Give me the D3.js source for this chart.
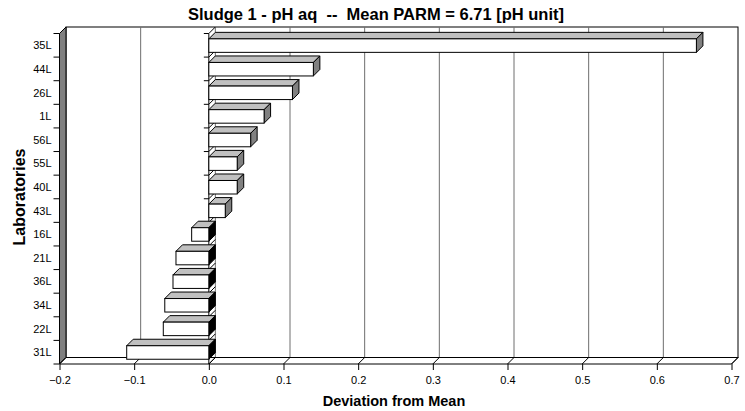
<!DOCTYPE html>
<html>
<head>
<meta charset="utf-8">
<script src="https://cdn.jsdelivr.net/npm/d3@7"></script>
<style>
  html, body { margin: 0; padding: 0; background: #fff; }
  svg { display: block; }
  text { font-family: "Liberation Sans", Arial, sans-serif; fill: #000; }
</style>
</head>
<body>
<svg id="chart" width="745" height="411"></svg>
<script>
// ---- data ----
const laboratories = ["35L","44L","26L","1L","56L","55L","40L","43L","16L","21L","36L","34L","22L","31L"];
const deviations   = [0.653, 0.140, 0.112, 0.074, 0.056, 0.038, 0.038, 0.022, -0.023, -0.044, -0.048, -0.059, -0.061, -0.110];
const xTickValues  = [-0.2, -0.1, 0.0, 0.1, 0.2, 0.3, 0.4, 0.5, 0.6, 0.7];
const chartTitle   = "Sludge 1 - pH aq  --  Mean PARM = 6.71 [pH unit]";
const xTitle       = "Deviation from Mean";
const yTitle       = "Laboratories";

// ---- layout ----
const front = { left: 59.5, right: 731.5, top: 33.5, bottom: 364 };
const depth = 6.5;

const svg = d3.select("#chart");

const x = d3.scaleLinear().domain([-0.2, 0.7]).range([front.left, front.right]);
const y = d3.scaleBand().domain(laboratories).range([front.top, front.bottom]).paddingInner(0).paddingOuter(0);
const barH = 13.5;

const poly = pts => pts.map(p => p.join(",")).join(" ");

// back wall
svg.append("rect")
  .attr("x", front.left + depth).attr("y", front.top - depth)
  .attr("width", front.right - front.left).attr("height", front.bottom - front.top)
  .attr("fill", "#fff").attr("stroke", "#000").attr("stroke-width", 1);

// vertical gridlines on back wall
svg.append("g").selectAll("line")
  .data(xTickValues.filter(v => v > -0.2 && v < 0.7))
  .join("line")
  .attr("x1", d => x(d) + depth).attr("x2", d => x(d) + depth)
  .attr("y1", front.top - depth).attr("y2", front.bottom - depth)
  .attr("stroke", "#6e6e6e").attr("stroke-width", 1);

// left wall
svg.append("polygon")
  .attr("points", poly([[front.left, front.top], [front.left + depth, front.top - depth],
                        [front.left + depth, front.bottom - depth], [front.left, front.bottom]]))
  .attr("fill", "#808080").attr("stroke", "#000").attr("stroke-width", 1);

// floor
svg.append("polygon")
  .attr("points", poly([[front.left, front.bottom], [front.right, front.bottom],
                        [front.right + depth, front.bottom - depth], [front.left + depth, front.bottom - depth]]))
  .attr("fill", "#fff").attr("stroke", "#000").attr("stroke-width", 1);

// floor diagonals at ticks
svg.append("g").selectAll("line")
  .data(xTickValues)
  .join("line")
  .attr("x1", d => x(d)).attr("y1", front.bottom)
  .attr("x2", d => x(d) + depth).attr("y2", front.bottom - depth)
  .attr("stroke", "#000");

// x axis (ticks + labels)
const xAxis = d3.axisBottom(x).tickValues(xTickValues).tickFormat(d3.format(".1f"))
  .tickSizeInner(6).tickSizeOuter(0).tickPadding(6);
const gx = svg.append("g").attr("transform", `translate(0,${front.bottom})`).call(xAxis);
gx.select(".domain").remove();
gx.selectAll("line").attr("stroke", "#000");
gx.selectAll("text").attr("font-size", 11).attr("font-family", "Liberation Sans, Arial, sans-serif").attr("fill", "#000");

// y axis on the left wall (ticks at band boundaries + labels)
const boundaries = laboratories.map(l => y(l)).concat([front.bottom]);
svg.append("g").selectAll("line")
  .data(boundaries)
  .join("line")
  .attr("x1", front.left - 6).attr("x2", front.left)
  .attr("y1", d => d).attr("y2", d => d)
  .attr("stroke", "#000");

const yAxis = d3.axisLeft(y).tickSize(0).tickPadding(8);
const gy = svg.append("g").attr("transform", `translate(${front.left},0.5)`).call(yAxis);
gy.select(".domain").remove();
gy.selectAll("text").attr("font-size", 11).attr("font-family", "Liberation Sans, Arial, sans-serif").attr("fill", "#000");

// zero (category) axis
const x0 = x(0);
svg.append("line")
  .attr("x1", x0).attr("x2", x0).attr("y1", front.top).attr("y2", front.bottom)
  .attr("stroke", "#000");
svg.append("g").selectAll("line")
  .data(boundaries.slice(0, -1))
  .join("line")
  .attr("x1", x0 - 5).attr("x2", x0)
  .attr("y1", d => d).attr("y2", d => d)
  .attr("stroke", "#000");
svg.append("g").selectAll("line")
  .data(boundaries)
  .join("line")
  .attr("x1", x0).attr("y1", d => d)
  .attr("x2", x0 + depth).attr("y2", d => d - depth)
  .attr("stroke", "#000");

// bars
const bars = laboratories.map((lab, i) => ({ lab, v: deviations[i] }));
const gb = svg.append("g");
bars.forEach(b => {
  const yc = y(b.lab) + y.bandwidth() / 2 + 0.3;
  const y0 = yc - barH / 2, y1 = yc + barH / 2;
  const xa = Math.min(x(0), x(b.v)), xb = Math.max(x(0), x(b.v));
  const g = gb.append("g");
  // top face
  g.append("polygon")
    .attr("points", poly([[xa, y0], [xa + depth, y0 - depth], [xb + depth, y0 - depth], [xb, y0]]))
    .attr("fill", "#c0c0c0").attr("stroke", "#000").attr("stroke-width", 1).attr("stroke-linejoin", "round");
  // right end face
  g.append("polygon")
    .attr("points", poly([[xb, y0], [xb + depth, y0 - depth], [xb + depth, y1 - depth], [xb, y1]]))
    .attr("fill", b.v >= 0 ? "#808080" : "#000").attr("stroke", "#000").attr("stroke-width", 1);
  // front face
  g.append("rect")
    .attr("x", xa).attr("y", y0).attr("width", xb - xa).attr("height", barH)
    .attr("fill", "#fff").attr("stroke", "#000").attr("stroke-width", 1);
});

// titles
svg.append("text")
  .attr("x", 376).attr("y", 20)
  .attr("text-anchor", "middle").attr("font-size", 16.5).attr("font-weight", "bold")
  .style("white-space", "pre").attr("xml:space", "preserve")
  .text(chartTitle);

svg.append("text")
  .attr("x", 394).attr("y", 406)
  .attr("text-anchor", "middle").attr("font-size", 14.5).attr("font-weight", "bold")
  .text(xTitle);

svg.append("text")
  .attr("transform", "translate(25,197) rotate(-90)")
  .attr("text-anchor", "middle").attr("font-size", 16).attr("font-weight", "bold")
  .text(yTitle);
</script>
</body>
</html>
